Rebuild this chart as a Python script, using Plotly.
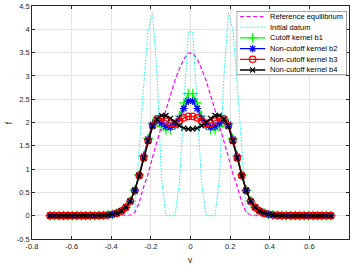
import plotly.graph_objects as go

v = [-0.70875, -0.68625, -0.66375, -0.64125, -0.61875, -0.59625, -0.57375, -0.55125,
     -0.52875, -0.50625, -0.48375, -0.46125, -0.43875, -0.41625, -0.39375, -0.37125,
     -0.34875, -0.32625, -0.30375, -0.28125, -0.25875, -0.23625, -0.21375, -0.19125,
     -0.16875, -0.14625, -0.12375, -0.10125, -0.07875, -0.05625, -0.03375, -0.01125,
     0.01125, 0.03375, 0.05625, 0.07875, 0.10125, 0.12375, 0.14625, 0.16875,
     0.19125, 0.21375, 0.23625, 0.25875, 0.28125, 0.30375, 0.32625, 0.34875,
     0.37125, 0.39375, 0.41625, 0.43875, 0.46125, 0.48375, 0.50625, 0.52875,
     0.55125, 0.57375, 0.59625, 0.61875, 0.64125, 0.66375, 0.68625, 0.70875]

f_ref = [0, 0, 0, 0, 0, 0, 0, 0, 0, 0, 0, 0, 0, 0, 0, 0, 0, 0,
         0.01, 0.07, 0.29, 0.62, 0.90, 1.26, 1.62, 1.93, 2.27, 2.60, 2.90, 3.15, 3.36, 3.49,
         3.49, 3.36, 3.15, 2.90, 2.60, 2.27, 1.93, 1.62, 1.26, 0.90, 0.62, 0.29, 0.07, 0.01,
         0, 0, 0, 0, 0, 0, 0, 0, 0, 0, 0, 0, 0, 0, 0, 0, 0, 0]

f_init = [0, 0, 0, 0, 0, 0, 0, 0, 0, 0, 0, 0, 0, 0, 0, 0, 0, 0, 0,
          0.10, 1.50, 2.80, 4.00, 4.35, 3.00, 0.80, 0, 0, 0, 0.70, 2.40, 3.95,
          3.95, 2.40, 0.70, 0, 0, 0, 0.80, 3.00, 4.35, 4.00, 2.80, 1.50, 0.10,
          0, 0, 0, 0, 0, 0, 0, 0, 0, 0, 0, 0, 0, 0, 0, 0, 0, 0, 0]

f_b1 = [0, 0, 0, 0, 0, 0, 0, 0, 0,
        0.001, 0.002, 0.004, 0.008, 0.015, 0.03, 0.055, 0.10, 0.18, 0.31, 0.55, 0.88, 1.29, 1.66,
        1.98, 2.03, 1.91, 1.84, 1.85, 1.94, 2.14, 2.42, 2.62,
        2.62, 2.42, 2.14, 1.94, 1.85, 1.84, 1.91, 2.03, 1.98,
        1.66, 1.29, 0.88, 0.55, 0.31, 0.18, 0.10, 0.055, 0.03, 0.015, 0.008, 0.004, 0.002, 0.001,
        0, 0, 0, 0, 0, 0, 0, 0, 0]

f_b2 = [0, 0, 0, 0, 0, 0, 0, 0, 0,
        0.001, 0.002, 0.004, 0.008, 0.015, 0.03, 0.055, 0.10, 0.18, 0.31, 0.54, 0.87, 1.27, 1.64,
        1.96, 2.05, 1.99, 1.92, 1.90, 1.95, 2.08, 2.30, 2.46,
        2.46, 2.30, 2.08, 1.95, 1.90, 1.92, 1.99, 2.05, 1.96,
        1.64, 1.27, 0.87, 0.54, 0.31, 0.18, 0.10, 0.055, 0.03, 0.015, 0.008, 0.004, 0.002, 0.001,
        0, 0, 0, 0, 0, 0, 0, 0, 0]

f_b3 = [0, 0, 0, 0, 0, 0, 0, 0, 0,
        0.001, 0.002, 0.004, 0.008, 0.015, 0.03, 0.055, 0.10, 0.18, 0.31, 0.54, 0.86, 1.24, 1.61,
        1.93, 2.08, 2.09, 2.03, 1.98, 1.98, 2.03, 2.10, 2.13,
        2.13, 2.10, 2.03, 1.98, 1.98, 2.03, 2.09, 2.08, 1.93,
        1.61, 1.24, 0.86, 0.54, 0.31, 0.18, 0.10, 0.055, 0.03, 0.015, 0.008, 0.004, 0.002, 0.001,
        0, 0, 0, 0, 0, 0, 0, 0, 0]

f_b4 = [0, 0, 0, 0, 0, 0, 0, 0, 0,
        0.001, 0.002, 0.004, 0.008, 0.015, 0.03, 0.055, 0.10, 0.18, 0.31, 0.54, 0.86, 1.23, 1.60,
        1.92, 2.07, 2.15, 2.15, 2.09, 2.01, 1.93, 1.88, 1.86,
        1.86, 1.88, 1.93, 2.01, 2.09, 2.15, 2.15, 2.07, 1.92,
        1.60, 1.23, 0.86, 0.54, 0.31, 0.18, 0.10, 0.055, 0.03, 0.015, 0.008, 0.004, 0.002, 0.001,
        0, 0, 0, 0, 0, 0, 0, 0, 0]

names = ["Reference equilibrium", "Initial datum", "Cutoff kernel b1",
         "Non-cutoff kernel b2", "Non-cutoff kernel b3", "Non-cutoff kernel b4"]

x_ticks = [-0.8, -0.6, -0.4, -0.2, 0, 0.2, 0.4, 0.6, 0.8]
x_labels = ["-0.8", "-0.6", "-0.4", "-0.2", "0", "0.2", "0.4", "0.6", "0.8"]
y_ticks = [-0.5, 0, 0.5, 1, 1.5, 2, 2.5, 3, 3.5, 4, 4.5]
y_labels = ["-0.5", "0", "0.5", "1", "1.5", "2", "2.5", "3", "3.5", "4", "4.5"]

FONT = "Liberation Sans, Arial, Helvetica, sans-serif"
TXT = "#262626"

styles = [
    dict(mode="lines", line=dict(color="#FF00FF", width=1.2, dash="4px,2.5px")),
    dict(mode="lines", line=dict(color="#00FFFF", width=1.0, dash="1.5px,1.5px")),
    dict(mode="lines+markers", line=dict(color="#00FF00", width=1.3),
         marker=dict(symbol="cross-thin-open", size=7, color="#00FF00", line=dict(color="#00FF00", width=1.2))),
    dict(mode="lines+markers", line=dict(color="#0000FF", width=1.3),
         marker=dict(symbol="asterisk-open", size=6.5, color="#0000FF", line=dict(color="#0000FF", width=1.2))),
    dict(mode="lines+markers", line=dict(color="#FF0000", width=1.3),
         marker=dict(symbol="circle-open", size=6.5, color="#FF0000", line=dict(color="#FF0000", width=1.2))),
    dict(mode="lines+markers", line=dict(color="#000000", width=1.3),
         marker=dict(symbol="x-thin-open", size=5, color="#000000", line=dict(color="#000000", width=1.2))),
]
series = [f_ref, f_init, f_b1, f_b2, f_b3, f_b4]

fig = go.Figure()
for nm, ys, st in zip(names, series, styles):
    fig.add_trace(go.Scatter(x=v, y=ys, name=nm, showlegend=False, xaxis="x", yaxis="y", **st))

# ---- hand-made legend (MATLAB style) on an invisible overlay axis ----
leg_rows = [0.914, 0.747, 0.580, 0.413, 0.245, 0.078]
fig.add_trace(go.Scatter(x=[0, 1, 1, 0, 0], y=[0, 0, 1, 1, 0], xaxis="x2", yaxis="y2",
                         mode="lines", fill="toself", fillcolor="white",
                         line=dict(color=TXT, width=0.8), showlegend=False, hoverinfo="skip"))
for nm, st, ry in zip(names, styles, leg_rows):
    st2 = dict(st)
    st2["mode"] = "lines"
    fig.add_trace(go.Scatter(x=[0.03, 0.26], y=[ry, ry], xaxis="x2", yaxis="y2",
                             showlegend=False, hoverinfo="skip", **st2))
    if "markers" in st["mode"]:
        fig.add_trace(go.Scatter(x=[0.145], y=[ry], xaxis="x2", yaxis="y2", mode="markers",
                                 marker=st["marker"], showlegend=False, hoverinfo="skip"))
    fig.add_annotation(x=0.285, y=ry, xref="x2", yref="y2", text=nm, showarrow=False,
                       xanchor="left", yanchor="middle",
                       font=dict(family=FONT, size=7.5, color="#000000"))

axis_common = dict(showgrid=True, gridcolor="#e4e4e4", gridwidth=1,
                   showline=True, linecolor=TXT, linewidth=0.8, mirror="ticks",
                   ticks="inside", ticklen=3, tickcolor=TXT, zeroline=False, automargin=False,
                   tickfont=dict(family=FONT, size=7.5, color=TXT))

fig.update_layout(
    width=354, height=266,
    margin=dict(l=32, r=5, t=6, b=27),
    paper_bgcolor="white", plot_bgcolor="white",
    font=dict(family=FONT, size=7.5, color=TXT),
    showlegend=False,
    xaxis=dict(range=[-0.8, 0.8], tickvals=x_ticks, ticktext=x_labels, domain=[0, 1], **axis_common),
    yaxis=dict(range=[-0.5, 4.5], tickvals=y_ticks, ticktext=y_labels, domain=[0, 1], **axis_common),
    xaxis2=dict(domain=[0.6457, 0.9927], range=[0, 1], visible=False, anchor="y2", fixedrange=True),
    yaxis2=dict(domain=[0.7039, 0.9785], range=[0, 1], visible=False, anchor="x2", fixedrange=True),
)

fig.add_annotation(x=0.5, y=-0.09, xref="paper", yref="paper", text="v", showarrow=False,
                   xanchor="center", yanchor="middle", font=dict(family=FONT, size=8.5, color=TXT))
fig.add_annotation(x=-0.073, y=0.5, xref="paper", yref="paper", text="f", showarrow=False,
                   textangle=-90, xanchor="center", yanchor="middle",
                   font=dict(family=FONT, size=8.5, color=TXT))

fig.write_html("out.html", config={"displayModeBar": False},
               post_script="document.body.style.margin='0';document.body.style.overflow='hidden';")
